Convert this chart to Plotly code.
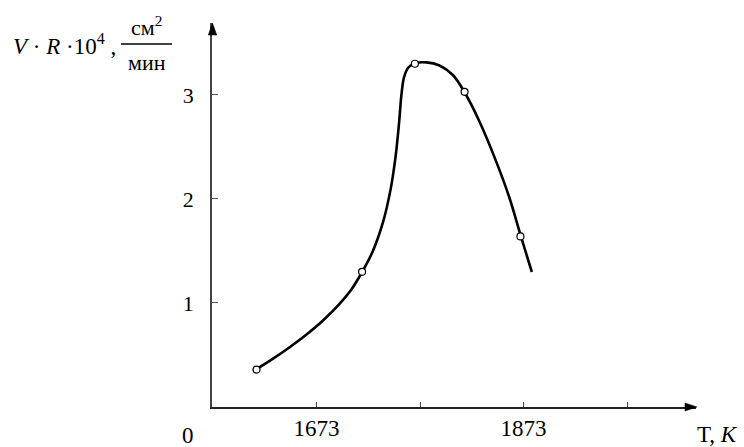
import plotly.graph_objects as go

# Measured points (open circles)
T_points = [1615, 1717, 1768, 1816, 1870]
V_points = [0.36, 1.30, 3.30, 3.03, 1.64]

# Curve
T_curve = [1614.7, 1631, 1647, 1663, 1679, 1695, 1707, 1717.0, 1727,
           1737, 1744.5, 1749.5, 1752.8, 1755.0, 1757.5, 1761.5, 1767.7, 1779.0,
           1791.8, 1804.7, 1816.0, 1830.5, 1846.6, 1859.5, 1870.6, 1881.0]
V_curve = [0.362, 0.465, 0.575, 0.695, 0.830, 0.990, 1.135, 1.298, 1.490,
           1.770, 2.090, 2.420, 2.740, 3.000, 3.170, 3.262, 3.303, 3.313,
           3.284, 3.192, 3.026, 2.743, 2.359, 2.007, 1.635, 1.298]

x_tickvals = [1673, 1873]
x_ticktext = ["1673", "1873"]
x_minor_vals = [1773, 1973]
y_tickvals = [1, 2, 3]
y_ticktext = ["1", "2", "3"]

X_RANGE = [1572, 2039.6]
Y_RANGE = [0, 3.692]

W, H = 744, 447
L, R, T, B = 212, 48, 23, 40
PW, PH = W - L - R, H - T - B


def px(x):
    return (x - L) / PW


def py(y):
    return (H - B - y) / PH


SERIF = "Liberation Serif, Times New Roman, serif"

fig = go.Figure()
fig.add_trace(go.Scatter(x=T_curve, y=V_curve, mode="lines", line_shape="spline",
                         line=dict(color="black", width=2.6, smoothing=1.0),
                         hoverinfo="skip"))
fig.add_trace(go.Scatter(x=T_points, y=V_points, mode="markers",
                         marker=dict(symbol="circle", size=7, color="white",
                                     line=dict(color="black", width=1.2))))

ann = []


def label(x, y, text, size, xanchor="center"):
    ann.append(dict(x=px(x), y=py(y), xref="paper", yref="paper", text=text,
                    xanchor=xanchor, yanchor="middle", showarrow=False,
                    font=dict(family=SERIF, size=size, color="black")))


# origin label
label(188, 435, "0", 23)
# x axis title
label(717, 434, "T, <i>K</i>", 23)
# y axis title with fraction
label(118, 45, "<i>V</i> · <i>R</i> ·10<sup>4</sup> ,", 23, xanchor="right")
label(146, 26, "см<sup>2</sup>", 22)
label(147, 63, "мин", 22)


def tri(points):
    d = "M " + " L ".join(f"{px(a):.5f},{py(b):.5f}" for a, b in points) + " Z"
    return dict(type="path", xref="paper", yref="paper", path=d,
                fillcolor="black", line=dict(color="black", width=0.5))


shapes = [
    dict(type="line", xref="paper", yref="paper", x0=px(121), x1=px(172),
         y0=py(44), y1=py(44), line=dict(color="black", width=1.3)),
    tri([(212.5, 23), (208.3, 35), (216.7, 35)]),   # y-axis arrow
    tri([(697, 407), (685, 403), (685, 411)]),      # x-axis arrow
]

fig.update_layout(
    width=W, height=H,
    margin=dict(l=L, r=R, t=T, b=B, autoexpand=False),
    paper_bgcolor="white", plot_bgcolor="white",
    showlegend=False,
    annotations=ann, shapes=shapes,
    xaxis=dict(range=X_RANGE, showgrid=False, zeroline=False, showline=True,
               automargin=False,
               linecolor="#222", linewidth=1.5, ticks="inside", ticklen=5,
               tickwidth=1.3, tickcolor="#444", tickvals=x_tickvals,
               ticktext=x_ticktext, ticklabelstandoff=0,
               minor=dict(ticks="inside", ticklen=5, tickwidth=1.3,
                          tickcolor="#444", tickvals=x_minor_vals,
                          showgrid=False),
               tickfont=dict(family=SERIF, size=23, color="black")),
    yaxis=dict(range=Y_RANGE, showgrid=False, zeroline=False, showline=True,
               automargin=False,
               linecolor="#444", linewidth=1.5, ticks="inside", ticklen=6,
               tickwidth=1.3, tickcolor="#555", tickvals=y_tickvals,
               ticktext=y_ticktext, ticklabelstandoff=12,
               tickfont=dict(family=SERIF, size=22, color="black")),
)

fig.write_html("out.html")
